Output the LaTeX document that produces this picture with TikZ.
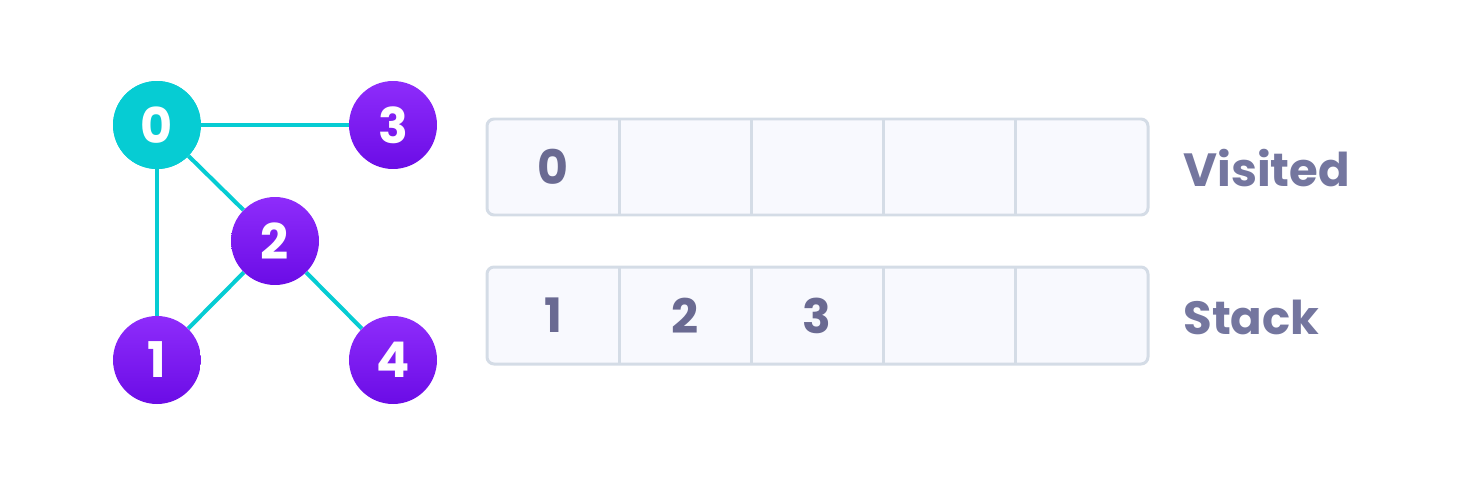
\documentclass[tikz,border=0pt]{standalone}
\usepackage{fontspec}
\setmainfont{Poppins}
\usetikzlibrary{positioning}

\definecolor{edgecyan}{HTML}{06CCD3}
\definecolor{purtop}{HTML}{8E2CFB}
\definecolor{purbot}{HTML}{6B0CE6}
\definecolor{cellline}{HTML}{D4DCE6}
\definecolor{cellfill}{HTML}{F8F9FE}
\definecolor{celltext}{HTML}{6A6A92}
\definecolor{labtext}{HTML}{74769F}

\begin{document}
\begin{tikzpicture}[
    x=0.02cm, y=-0.02cm,
    vertex/.style={circle,inner sep=0pt,minimum size=1.76cm,text=white,
      font=\fontsize{28}{28}\selectfont\bfseries,
      top color=purtop,bottom color=purbot},
    start/.style={vertex,fill=edgecyan,top color=edgecyan,bottom color=edgecyan},
    edge/.style={edgecyan,line width=2.3pt},
    cell/.style={minimum width=2.64cm,minimum height=1.92cm,inner sep=0pt,
      text=celltext,font=\fontsize{27}{27}\selectfont\bfseries},
    row/.style={draw=cellline,fill=cellfill,line width=1.7pt,rounded corners=4pt},
    divider/.style={cellline,line width=1.7pt},
    rowlabel/.style={anchor=west,inner sep=0pt,text=labtext,
      font=\fontsize{26.5}{26.5}\selectfont\bfseries}
    ]

    \useasboundingbox (0,0) rectangle (1460,484);

    % graph:
    \node(n0) at (157,125) [start] {0};
    \node(n3) at (393,125) [vertex] {3};
    \node(n2) at (275,241) [vertex] {2};
    \node(n1) at (157,360) [vertex] {1};
    \node(n4) at (393,360) [vertex] {4};

    \draw[edge] (n0) -- (n3);
    \draw[edge] (n0) -- (n2);
    \draw[edge] (n0) -- (n1);
    \draw[edge] (n2) -- (n1);
    \draw[edge] (n2) -- (n4);

    % visited and stack rows:
    \draw[row] (487,119) rectangle (1148,215);
    \draw[row] (487,267) rectangle (1148,364);

    \foreach \i in {1,...,5} {
      \node(v\i) at (421+\i*132, 167) [cell] {};
      \node(s\i) at (421+\i*132, 315.5) [cell] {};
    }
    \foreach \i in {1,...,4} {
      \draw[divider] (v\i.north east) -- (v\i.south east);
      \draw[divider] (s\i.north east) -- (s\i.south east);
    }

    \node at (v1) [cell] {0};
    \node at (s1) [cell] {1};
    \node at (s2) [cell] {2};
    \node at (s3) [cell] {3};

    \node(visited) at (1183,168) [rowlabel] {Visited};
    \node(stack) at (1183,317) [rowlabel] {Stack};

  \end{tikzpicture}
\end{document}
